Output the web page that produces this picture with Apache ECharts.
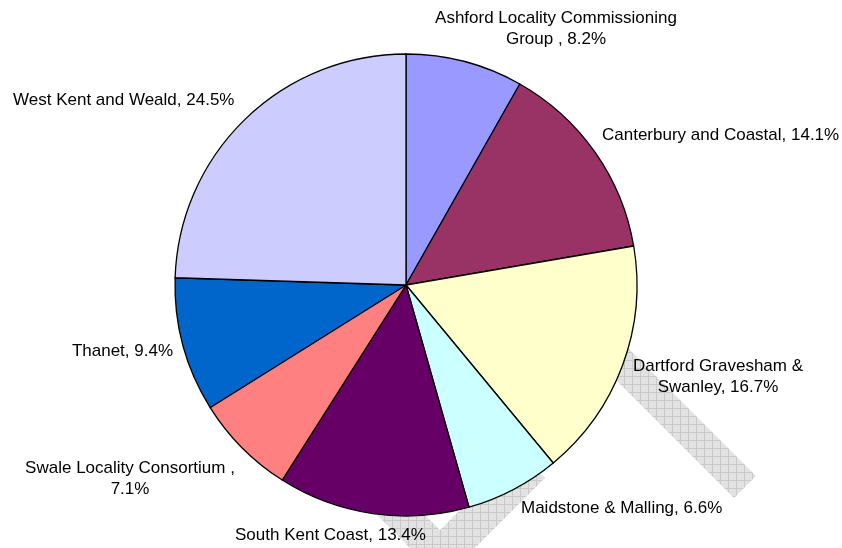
<!DOCTYPE html>
<html><head><meta charset="utf-8">
<script src="https://cdn.jsdelivr.net/npm/echarts@6/dist/echarts.min.js"></script>
<style>html,body{margin:0;padding:0;background:#fff}#c{width:842px;height:548px}</style>
</head><body><div id="c"></div>
<script>
const categories = ['Ashford Locality Commissioning\nGroup ', 'Canterbury and Coastal', 'Dartford Gravesham &\nSwanley', 'Maidstone & Malling', 'South Kent Coast', 'Swale Locality Consortium ,\n', 'Thanet', 'West Kent and Weald'];
const values = [8.2, 14.1, 16.7, 6.6, 13.4, 7.1, 9.4, 24.5];
const colors = ['#9999FF', '#993366', '#FFFFCC', '#CCFFFF', '#660066', '#FF8080', '#0066CC', '#CCCCFF'];

const labelPos = [
  {x: 556, y: 29, align: 'center'},
  {x: 602, y: 135, align: 'left'},
  {x: 718, y: 377, align: 'center'},
  {x: 521, y: 508, align: 'left'},
  {x: 235, y: 535, align: 'left'},
  {x: 130, y: 479, align: 'center'},
  {x: 173, y: 351, align: 'right'},
  {x: 13, y: 100, align: 'left'}
];

function labelText(p) {
  const name = categories[p.dataIndex];
  const v = values[p.dataIndex].toFixed(1) + '%';
  if (name.endsWith('\n')) return name + v;
  return name + ', ' + v;
}

const pc = document.createElement('canvas');
pc.width = 8; pc.height = 8;
const g = pc.getContext('2d');
g.fillStyle = '#e2e2e2'; g.fillRect(0, 0, 8, 8);
g.fillStyle = '#c9c9c9'; g.fillRect(0, 0, 8, 1); g.fillRect(0, 0, 1, 8);
const hatch = {image: pc, repeat: 'repeat'};

const chart = echarts.init(document.getElementById('c'));
chart.setOption({
  animation: false,
  backgroundColor: '#ffffff',
  graphic: [
    {type: 'polygon', z: -1, shape: {points: [[625, 345], [756, 476], [734, 498], [600, 364]]}, style: {fill: hatch}},
    {type: 'polygon', z: -1, shape: {points: [[377, 515], [425, 515], [440, 530], [495, 475], [530, 463], [545, 478], [475, 548], [410, 548]]}, style: {fill: hatch}}
  ],
  series: [{
    type: 'pie',
    center: [406, 285],
    radius: 231,
    startAngle: 90,
    clockwise: true,
    data: categories.map((c, i) => ({name: c, value: values[i], itemStyle: {color: colors[i]}})),
    itemStyle: {borderColor: '#000', borderWidth: 1.3},
    label: {
      show: true,
      position: 'outside',
      formatter: labelText,
      color: '#000',
      fontFamily: 'Liberation Sans, Arial, sans-serif',
      fontSize: 17,
      lineHeight: 21,
      overflow: 'none'
    },
    labelLine: {show: false},
    labelLayout: function (p) {
      const q = labelPos[p.dataIndex];
      return {x: q.x, y: q.y, align: q.align, verticalAlign: 'middle', hideOverlap: false, moveOverlap: false};
    },
    emphasis: {disabled: true}
  }]
});
</script>
</body></html>
